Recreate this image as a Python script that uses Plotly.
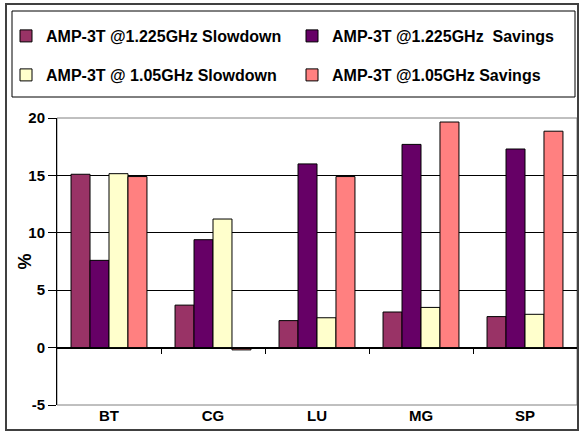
import plotly.graph_objects as go

# Benchmarks and per-configuration results (%)
benchmarks = ["BT", "CG", "LU", "MG", "SP"]
slowdown_1225 = [15.1, 3.7, 2.35, 3.1, 2.7]
savings_1225 = [7.6, 9.4, 16.0, 17.7, 17.3]
slowdown_105 = [15.15, 11.2, 2.6, 3.5, 2.9]
savings_105 = [14.9, -0.2, 14.9, 19.65, 18.85]

series_names = [
    "AMP-3T @1.225GHz Slowdown",
    "AMP-3T @1.225GHz  Savings",
    "AMP-3T @ 1.05GHz Slowdown",
    "AMP-3T @1.05GHz Savings",
]
series_values = [slowdown_1225, savings_1225, slowdown_105, savings_105]
series_colors = ["#993366", "#660066", "#FFFFCC", "#FF8080"]
y_ticks = [-5, 0, 5, 10, 15, 20]
y_tick_text = ["-5", "0", "5", "10", "15", "20"]
y_title = "%"

W, H = 582, 434
L, R, T, B = 57, 5, 118, 29
pw, ph = W - L - R, H - T - B


def px_x(p):
    return (p - L) / pw


def px_y(p):
    return (H - B - p) / ph


FONT = "Liberation Sans, Arial, sans-serif"

legend_ids = ["legend", "legend2", "legend3", "legend4"]
# legend entry anchors (pixel positions): two columns, two rows
legend_pos = [(6, 36), (292, 36), (6, 75), (292, 75)]

fig = go.Figure()
for name, vals, col, lg in zip(series_names, series_values, series_colors, legend_ids):
    fig.add_trace(go.Bar(
        x=benchmarks, y=vals, name=name, legend=lg,
        marker=dict(color=col, line=dict(color="#000000", width=1)),
    ))

# helper trace so the zero-line category axis is drawn
fig.add_trace(go.Scatter(x=[0, 4], y=[0, 0], xaxis="x2", mode="markers",
                         marker=dict(opacity=0), showlegend=False, hoverinfo="skip"))

legend_layout = {}
for lg, (lx, ly) in zip(legend_ids, legend_pos):
    legend_layout[lg] = dict(
        x=px_x(lx), y=px_y(ly), xanchor="left", yanchor="middle",
        orientation="h",
        font=dict(family=FONT, size=16, color="#000000", weight="bold"),
        bgcolor="rgba(0,0,0,0)", borderwidth=0, itemclick=False,
    )

fig.update_layout(
    width=W, height=H,
    margin=dict(l=L, r=R, t=T, b=B),
    paper_bgcolor="#ffffff", plot_bgcolor="#ffffff",
    barmode="group", bargap=0.27, bargroupgap=0,
    font=dict(family=FONT, color="#000000"),
    xaxis=dict(
        type="category", range=[-0.5, 4.5],
        showline=False, ticks="", showgrid=False, zeroline=False,
        tickfont=dict(family=FONT, size=15, color="#000000", weight="bold"),
        fixedrange=True,
    ),
    xaxis2=dict(
        overlaying="x", anchor="free", position=0.2, side="bottom",
        range=[-0.5, 4.5], showline=True, linecolor="#000000", linewidth=1,
        tickmode="array", tickvals=[0.5, 1.5, 2.5, 3.5, 4.5],
        ticks="outside", ticklen=5, tickcolor="#000000",
        showticklabels=False, showgrid=False, zeroline=False,
        layer="above traces", fixedrange=True,
    ),
    yaxis=dict(
        range=[-5, 20], tickmode="array", tickvals=y_ticks, ticktext=y_tick_text,
        ticks="outside", ticklen=8, tickcolor="#000000",
        showline=True, linecolor="#000000", linewidth=1,
        showgrid=True, gridcolor="#000000", gridwidth=1,
        zeroline=True, zerolinecolor="#000000", zerolinewidth=1,
        tickfont=dict(family=FONT, size=15, color="#000000", weight="bold"),
        fixedrange=True,
    ),
    annotations=[
        dict(text=y_title, xref="paper", yref="paper", x=px_x(24), y=0.5,
             xanchor="center", yanchor="middle", showarrow=False, textangle=-90,
             font=dict(family=FONT, size=18, color="#000000", weight="bold")),
    ],
    shapes=[
        # plot-area border
        dict(type="rect", xref="paper", yref="paper", x0=0, x1=1, y0=0, y1=1,
             line=dict(color="#808080", width=1), layer="below"),
        # legend box
        dict(type="rect", xref="paper", yref="paper",
             x0=px_x(12), x1=px_x(575), y0=px_y(97), y1=px_y(11),
             line=dict(color="#000000", width=1)),
        # chart frame
        dict(type="rect", xref="paper", yref="paper",
             x0=px_x(6), x1=px_x(578), y0=px_y(430), y1=px_y(4),
             line=dict(color="#404040", width=2)),
    ],
    **legend_layout,
)

fig.write_html("out.html")
